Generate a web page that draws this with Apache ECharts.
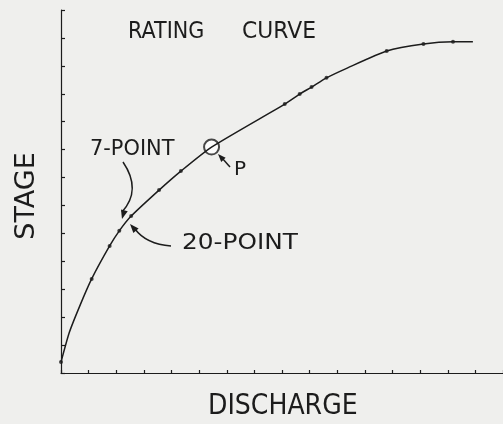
<!DOCTYPE html>
<html>
<head>
<meta charset="utf-8">
<script src="https://cdn.jsdelivr.net/npm/echarts@6/dist/echarts.min.js"></script>
<style>
  html, body { margin: 0; padding: 0; background: #efefed; }
  #rating_curve { width: 503px; height: 424px; }
</style>
</head>
<body>
<div id="rating_curve"></div>
<script>
// discharge / stage in tick units
var curveX = [0, 0.30, 0.70, 1.11, 1.76, 2.11, 2.54, 3.55, 4.34, 5.45, 8.10, 8.64, 9.07, 9.61, 10.36, 11.79, 13.12, 14.19, 14.91]
var curveY = [0.39, 1.45, 2.45, 3.37, 4.55, 5.09, 5.62, 6.55, 7.23, 8.09, 9.63, 9.99, 10.24, 10.57, 10.92, 11.53, 11.78, 11.86, 11.86]
var dotX = [0, 1.11, 1.76, 2.11, 2.54, 3.55, 4.34, 8.10, 8.64, 9.07, 9.61, 11.79, 13.12, 14.19]
var dotY = [0.39, 3.37, 4.55, 5.09, 5.62, 6.55, 7.23, 9.63, 9.99, 10.24, 10.57, 11.53, 11.78, 11.86]
var pointP = [5.45, 8.09]

var ink = '#1c1c1c'
var font = 'DejaVu Sans'

function zip(xs, ys) {
  return xs.map(function(x, i) { return [x, ys[i]] })
}

function arrowHead(tip, from, len, half) {
  var dx = tip[0] - from[0]
  var dy = tip[1] - from[1]
  var d = Math.sqrt(dx * dx + dy * dy)
  var ux = dx / d
  var uy = dy / d
  var bx = tip[0] - ux * len
  var by = tip[1] - uy * len
  return {
    type: 'polygon',
    shape: { points: [tip, [bx - uy * half, by + ux * half], [bx + uy * half, by - ux * half]] },
    style: { fill: ink }
  }
}

function label(text, x, y, size, sx, rot) {
  return {
    type: 'text',
    x: x,
    y: y,
    rotation: rot || 0,
    scaleX: sx || 1,
    style: {
      text: text,
      fill: ink,
      font: size + 'px "' + font + '"',
      textAlign: rot ? 'center' : 'left',
      textVerticalAlign: 'middle'
    }
  }
}

var chart = echarts.init(document.getElementById('rating_curve'))
chart.setOption({
  backgroundColor: '#efefed',
  animation: false,
  grid: { left: 61, top: 10, right: -4, bottom: 51 },
  xAxis: {
    type: 'value',
    min: 0,
    max: 16,
    interval: 1,
    axisLine: { lineStyle: { color: ink, width: 1.2 } },
    axisTick: { inside: true, length: 3, lineStyle: { color: ink, width: 1.2 } },
    axisLabel: { show: false },
    splitLine: { show: false }
  },
  yAxis: {
    type: 'value',
    min: 0,
    max: 13,
    interval: 1,
    axisLine: { lineStyle: { color: ink, width: 1.2 } },
    axisTick: { inside: true, length: 4, lineStyle: { color: ink, width: 1.2 } },
    axisLabel: { show: false },
    splitLine: { show: false }
  },
  series: [
    {
      type: 'line',
      data: zip(curveX, curveY),
      smooth: 0.2,
      showSymbol: false,
      lineStyle: { color: ink, width: 1.5 }
    },
    {
      type: 'scatter',
      data: zip(dotX, dotY),
      symbolSize: 4,
      itemStyle: { color: ink }
    },
    {
      type: 'scatter',
      data: [pointP],
      symbol: 'emptyCircle',
      symbolSize: 15,
      itemStyle: { color: ink, borderColor: ink, borderWidth: 1.5 }
    }
  ],
  graphic: [
    label('RATING', 128, 32, 23, 0.9),
    label('CURVE', 242, 32, 23, 0.95),
    label('STAGE', 27, 196, 27, 1, Math.PI / 2),
    label('DISCHARGE', 208, 407, 28, 0.9),
    label('7-POINT', 90, 149, 22, 0.95),
    label('20-POINT', 182, 244, 21, 1.18),
    label('P', 234, 170, 20, 1),
    {
      type: 'bezierCurve',
      shape: { x1: 123, y1: 162, cpx1: 142, cpy1: 190, x2: 122, y2: 212 },
      style: { stroke: ink, lineWidth: 1.5, fill: null }
    },
    arrowHead([122, 219], [125, 208], 9, 3.5),
    {
      type: 'bezierCurve',
      shape: { x1: 171, y1: 246, cpx1: 146, cpy1: 244, x2: 135, y2: 229 },
      style: { stroke: ink, lineWidth: 1.5, fill: null }
    },
    arrowHead([130, 224], [138, 233], 9, 3.5),
    {
      type: 'line',
      shape: { x1: 230, y1: 167, x2: 222, y2: 158 },
      style: { stroke: ink, lineWidth: 1.5 }
    },
    arrowHead([218, 154], [230, 167], 8, 3)
  ]
})
</script>
</body>
</html>
